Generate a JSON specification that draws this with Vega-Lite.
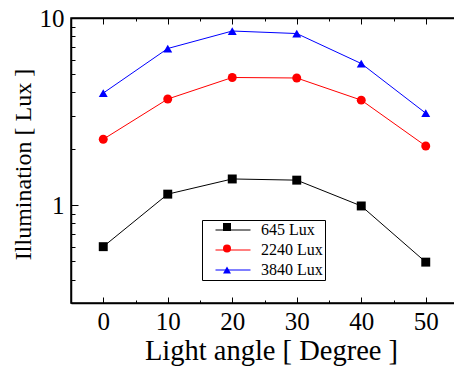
{
  "$schema": "https://vega.github.io/schema/vega-lite/v6.json",
  "autosize": {"type": "none"},
  "padding": {"left": 71, "top": 18, "right": 0, "bottom": 69},
  "width": 387,
  "height": 285,
  "background": "white",
  "config": {
    "font": "Liberation Serif",
    "view": {"stroke": "black", "strokeWidth": 1.5},
    "axis": {
      "domainColor": "black", "domainWidth": 1.5,
      "tickColor": "black", "tickWidth": 1,
      "labelColor": "black", "titleColor": "black",
      "labelFont": "Liberation Serif", "titleFont": "Liberation Serif",
      "labelFontSize": 25, "titleFontWeight": "normal", "grid": false
    },
    "legend": {
      "title": null, "orient": "none",
      "labelFont": "Liberation Serif", "labelFontSize": 16, "labelColor": "black"
    }
  },
  "data": {"values": [
    {"angle": 0, "lux": 0.60, "series": "645 Lux"},
    {"angle": 10, "lux": 1.145, "series": "645 Lux"},
    {"angle": 20, "lux": 1.38, "series": "645 Lux"},
    {"angle": 30, "lux": 1.36, "series": "645 Lux"},
    {"angle": 40, "lux": 0.99, "series": "645 Lux"},
    {"angle": 50, "lux": 0.496, "series": "645 Lux"},
    {"angle": 0, "lux": 2.25, "series": "2240 Lux"},
    {"angle": 10, "lux": 3.69, "series": "2240 Lux"},
    {"angle": 20, "lux": 4.81, "series": "2240 Lux"},
    {"angle": 30, "lux": 4.78, "series": "2240 Lux"},
    {"angle": 40, "lux": 3.64, "series": "2240 Lux"},
    {"angle": 50, "lux": 2.07, "series": "2240 Lux"},
    {"angle": 0, "lux": 3.97, "series": "3840 Lux"},
    {"angle": 10, "lux": 6.87, "series": "3840 Lux"},
    {"angle": 20, "lux": 8.52, "series": "3840 Lux"},
    {"angle": 30, "lux": 8.26, "series": "3840 Lux"},
    {"angle": 40, "lux": 5.71, "series": "3840 Lux"},
    {"angle": 50, "lux": 3.10, "series": "3840 Lux"}
  ]},
  "encoding": {
    "y": {
      "field": "lux", "type": "quantitative",
      "scale": {"type": "log", "domain": [0.3, 10], "nice": false},
      "axis": {
        "title": "Illumination [ Lux ]", "titleFontSize": 24, "titlePadding": 4, "titleY": 146,
        "values": [0.3, 0.4, 0.5, 0.6, 0.7, 0.8, 0.9, 1, 2, 3, 4, 5, 6, 7, 8, 9, 10],
        "labelExpr": "datum.value == 1 || datum.value == 10 ? format(datum.value, 'd') : ''",
        "tickSize": {"condition": {"test": "datum.value == 1 || datum.value == 10", "value": -7}, "value": -4},
        "labelPadding": 14
      }
    }
  },
  "layer": [
    {
      "mark": {"type": "line", "strokeWidth": 1},
      "encoding": {
        "x": {
          "field": "angle", "type": "quantitative",
          "scale": {"domain": [-5, 55], "nice": false, "zero": false},
          "axis": {
            "title": "Light angle [ Degree ]", "titleFontSize": 28.5, "titlePadding": 2, "titleX": 200,
            "values": [0, 5, 10, 15, 20, 25, 30, 35, 40, 45, 50],
            "labelExpr": "datum.value % 10 == 0 ? format(datum.value, 'd') : ''",
            "tickSize": {"condition": {"test": "datum.value % 10 == 0", "value": -6}, "value": -3},
            "labelPadding": 12
          }
        },
        "color": {"field": "series", "type": "nominal",
          "scale": {"domain": ["645 Lux", "2240 Lux", "3840 Lux"], "range": ["#000000", "#ff0000", "#0000ff"]},
          "legend": {
            "legendX": 131, "legendY": 202, "strokeColor": "black", "fillColor": "white",
            "padding": 2, "rowPadding": 4, "labelOffset": 41,
            "symbolType": "M1.4,0H15.4", "symbolSize": 25, "symbolStrokeWidth": 1,
            "labelExpr": "(datum.label == '645 Lux' ? '\u00a0\u00a0645 Lux' : datum.label) + '\u00a0\u00a0\u00a0'"
          }}
      }
    },
    {
      "mark": {"type": "point", "filled": true, "opacity": 1, "size": 80, "strokeWidth": 0},
      "encoding": {
        "x": {"field": "angle", "type": "quantitative", "axis": null},
        "fill": {"field": "series", "type": "nominal",
          "sort": {"field": "lux", "op": "min"},
          "scale": {"range": ["#000000", "#ff0000", "#0000ff"]},
          "legend": {
            "legendX": 148, "legendY": 201, "padding": 0, "rowPadding": 5.5,
            "symbolSize": 64, "symbolOpacity": 1, "symbolStrokeWidth": 0, "labelExpr": "''", "labelOffset": 0
          }},
        "shape": {"field": "series", "type": "nominal",
          "sort": {"field": "lux", "op": "min"},
          "scale": {"range": ["square", "circle", "triangle-up"]},
          "legend": {
            "legendX": 148, "legendY": 201, "padding": 0, "rowPadding": 5.5,
            "symbolSize": 64, "symbolOpacity": 1, "symbolStrokeWidth": 0, "labelExpr": "''", "labelOffset": 0
          }}
      }
    },
    {
      "mark": {"type": "point", "opacity": 0},
      "encoding": {
        "x": {"field": "angle", "type": "quantitative", "axis": {"orient": "top", "labels": false, "title": null, "domain": true,
          "values": [0, 5, 10, 15, 20, 25, 30, 35, 40, 45, 50],
          "tickSize": {"condition": {"test": "datum.value % 10 == 0", "value": -6}, "value": -3}}},
        "color": {"value": "black"}
      }
    }
  ],
  "resolve": {"axis": {"x": "independent"}}
}
